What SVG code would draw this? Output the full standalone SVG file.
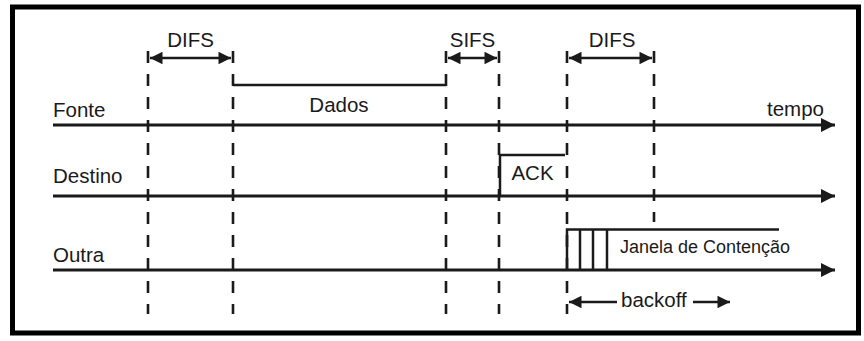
<svg xmlns="http://www.w3.org/2000/svg" width="864" height="341" viewBox="0 0 864 341">
<defs>
<marker id="ah" viewBox="0 0 10 10" refX="10" refY="5" markerWidth="5.5" markerHeight="5" markerUnits="strokeWidth" orient="auto">
<path d="M0,0 L10,5 L0,10 z" fill="#1a1a1a"/>
</marker>
<marker id="ahs" viewBox="0 0 10 10" refX="10" refY="5" markerWidth="5.2" markerHeight="5" markerUnits="strokeWidth" orient="auto-start-reverse">
<path d="M0,0 L10,5 L0,10 z" fill="#1a1a1a"/>
</marker>
</defs>
<style>
.t{font-family:"Liberation Sans",Arial,sans-serif;font-size:20.5px;fill:#1a1a1a}
.ts{font-family:"Liberation Sans",Arial,sans-serif;font-size:18px;fill:#1a1a1a}
.ln{stroke:#1a1a1a;stroke-width:2.5;fill:none}
.ax{stroke:#1a1a1a;stroke-width:2.8;fill:none}
.ds{stroke:#1a1a1a;stroke-width:2.6;fill:none;stroke-dasharray:12 11}
.dim{stroke:#1a1a1a;stroke-width:2.5;fill:none;marker-start:url(#ahs);marker-end:url(#ahs)}
</style>
<rect x="0" y="0" width="864" height="341" fill="#fff"/>
<rect x="12.5" y="7" width="846" height="326" fill="none" stroke="#000" stroke-width="5"/>

<g id="timelines">
<line class="ax" x1="53" y1="125" x2="835" y2="125" marker-end="url(#ah)"/>
<line class="ax" x1="53" y1="196" x2="835" y2="196" marker-end="url(#ah)"/>
<line class="ax" x1="53" y1="270" x2="835" y2="270" marker-end="url(#ah)"/>
<text class="t" x="53" y="117">Fonte</text>
<text class="t" x="53" y="183">Destino</text>
<text class="t" x="53" y="262">Outra</text>
<text class="t" x="767" y="116">tempo</text>
</g>

<g id="connectors">
<line class="ds" x1="148" y1="51" x2="148" y2="314"/>
<line class="ds" x1="233" y1="51" x2="233" y2="314"/>
<line class="ds" x1="446" y1="51" x2="446" y2="314"/>
<line class="ds" x1="499" y1="51" x2="499" y2="314"/>
<line class="ds" x1="567" y1="51" x2="567" y2="314"/>
<line class="ds" x1="654" y1="51" x2="654" y2="222"/>
</g>

<g id="difs1">
<line class="dim" x1="150" y1="58" x2="231" y2="58"/>
<text class="t" x="190.5" y="47" text-anchor="middle">DIFS</text>
</g>
<g id="sifs">
<line class="dim" x1="448" y1="58" x2="497" y2="58"/>
<text class="t" x="472.5" y="47" text-anchor="middle">SIFS</text>
</g>
<g id="difs2">
<line class="dim" x1="569" y1="58" x2="652" y2="58"/>
<text class="t" x="612" y="47" text-anchor="middle">DIFS</text>
</g>

<g id="dados">
<polyline class="ln" points="233,85 446,85"/>
<text class="t" x="339" y="112" text-anchor="middle">Dados</text>
</g>

<g id="ack">
<polyline class="ln" points="500,196 500,155 565,155"/>
<text class="t" x="532.5" y="180" text-anchor="middle">ACK</text>
</g>

<g id="janela">
<polyline class="ln" points="567,270 567,229.5 779,229.5"/>
<line class="ln" x1="580" y1="229.5" x2="580" y2="270"/>
<line class="ln" x1="593" y1="229.5" x2="593" y2="270"/>
<line class="ln" x1="607" y1="229.5" x2="607" y2="270"/>
<text class="ts" x="620" y="253">Janela de Contenção</text>
</g>

<g id="backoff">
<line class="dim" x1="569" y1="302" x2="617" y2="302" style="marker-end:none"/>
<line class="dim" x1="693" y1="302" x2="730" y2="302" style="marker-start:none"/>
<text class="t" x="621" y="307">backoff</text>
</g>
</svg>
